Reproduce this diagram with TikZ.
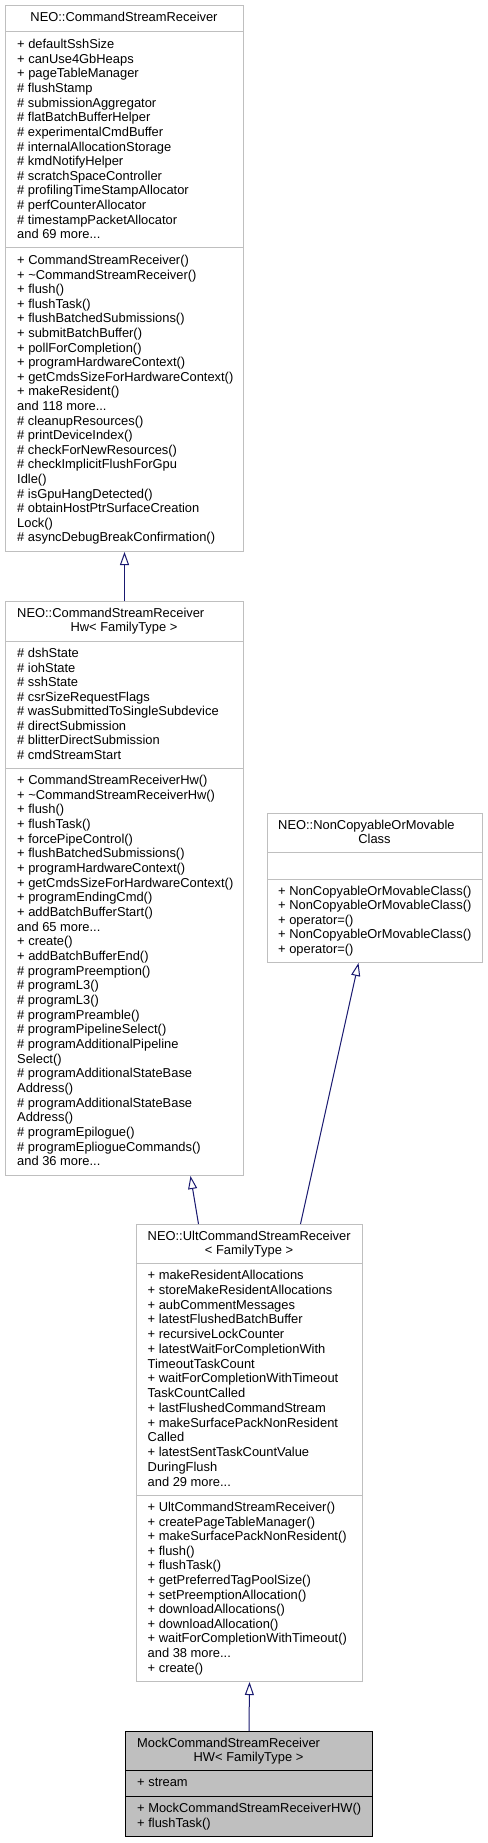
\documentclass[tikz,border=0pt]{standalone}
\usepackage{fontspec}
\setmainfont{Liberation Sans}
\usetikzlibrary{arrows.meta,calc}
\definecolor{boxgray}{HTML}{BFBFBF}
\definecolor{edgeblue}{HTML}{191970}
\newcommand\clssec[5]{\node[sectxt,font=\fontsize{12.9}{#3}\selectfont] (#4) at (#1,{#2-0.7*#3}) {\strut #5};}
\begin{document}
\begin{tikzpicture}[x=1pt,y=-1pt,
  sectxt/.style={anchor=north west,inner sep=0pt,align=left},
  ttl/.style={inner sep=0pt,font=\fontsize{12.9}{14.5}\selectfont},
  clsbox/.style={draw=boxgray,line width=1pt,fill=white,inner sep=0pt,anchor=north west},
  divl/.style={draw=boxgray,line width=1pt},
  inh/.style={draw=edgeblue,line width=1pt,-{Triangle[open,length=13pt,width=9pt]}}]
\fill[white] (0,0) rectangle (487,1843);
\useasboundingbox (0,0) rectangle (487,1843);

% ---- Box A: NEO::CommandStreamReceiver
\node[clsbox,minimum width=238pt,minimum height=546pt] (A) at (5,5) {};
\draw[divl] (5,32) -- (243,32);
\draw[divl] (5,248) -- (243,248);
\node[ttl,anchor=base] (Atitle) at (124,21.3) {NEO::CommandStreamReceiver};
\clssec{17}{48.3}{14.65}{Aattr}{+ defaultSshSize\\+ canUse4GbHeaps\\+ pageTableManager\\\# flushStamp\\\# submissionAggregator\\\# flatBatchBufferHelper\\\# experimentalCmdBuffer\\\# internalAllocationStorage\\\# kmdNotifyHelper\\\# scratchSpaceController\\\# profilingTimeStampAllocator\\\# perfCounterAllocator\\\# timestampPacketAllocator\\and 69 more...}
\clssec{17}{264.3}{14.6}{Ameth}{+ CommandStreamReceiver()\\+ \textasciitilde CommandStreamReceiver()\\+ flush()\\+ flushTask()\\+ flushBatchedSubmissions()\\+ submitBatchBuffer()\\+ pollForCompletion()\\+ programHardwareContext()\\+ getCmdsSizeForHardwareContext()\\+ makeResident()\\and 118 more...\\\# cleanupResources()\\\# printDeviceIndex()\\\# checkForNewResources()\\\# checkImplicitFlushForGpu\\Idle()\\\# isGpuHangDetected()\\\# obtainHostPtrSurfaceCreation\\Lock()\\\# asyncDebugBreakConfirmation()}

% ---- Box B: NEO::CommandStreamReceiverHw
\node[clsbox,minimum width=238pt,minimum height=574pt] (B) at (5,601) {};
\draw[divl] (5,641) -- (243,641);
\draw[divl] (5,768) -- (243,768);
\node[ttl,anchor=base west] (Btitle1) at (17,617.3) {NEO::CommandStreamReceiver};
\node[ttl,anchor=base] (Btitle2) at (124,631.8) {Hw< FamilyType >};
\clssec{17}{657.3}{14.5}{Battr}{\# dshState\\\# iohState\\\# sshState\\\# csrSizeRequestFlags\\\# wasSubmittedToSingleSubdevice\\\# directSubmission\\\# blitterDirectSubmission\\\# cmdStreamStart}
\clssec{17}{784.3}{14.67}{Bmeth}{+ CommandStreamReceiverHw()\\+ \textasciitilde CommandStreamReceiverHw()\\+ flush()\\+ flushTask()\\+ forcePipeControl()\\+ flushBatchedSubmissions()\\+ programHardwareContext()\\+ getCmdsSizeForHardwareContext()\\+ programEndingCmd()\\+ addBatchBufferStart()\\and 65 more...\\+ create()\\+ addBatchBufferEnd()\\\# programPreemption()\\\# programL3()\\\# programL3()\\\# programPreamble()\\\# programPipelineSelect()\\\# programAdditionalPipeline\\Select()\\\# programAdditionalStateBase\\Address()\\\# programAdditionalStateBase\\Address()\\\# programEpilogue()\\\# programEpliogueCommands()\\and 36 more...}

% ---- Box C: NEO::NonCopyableOrMovableClass
\node[clsbox,minimum width=215pt,minimum height=149pt] (C) at (267,813) {};
\draw[divl] (267,852) -- (482,852);
\draw[divl] (267,879) -- (482,879);
\node[ttl,anchor=base west] (Ctitle1) at (278,829.3) {NEO::NonCopyableOrMovable};
\node[ttl,anchor=base] (Ctitle2) at (374.5,843.8) {Class};
\clssec{278}{895.3}{14.4}{Cmeth}{+ NonCopyableOrMovableClass()\\+ NonCopyableOrMovableClass()\\+ operator=()\\+ NonCopyableOrMovableClass()\\+ operator=()}

% ---- Box D: NEO::UltCommandStreamReceiver
\node[clsbox,minimum width=226pt,minimum height=457pt] (D) at (136,1224) {};
\draw[divl] (136,1263) -- (362,1263);
\draw[divl] (136,1495) -- (362,1495);
\node[ttl,anchor=base west] (Dtitle1) at (147.5,1240.3) {NEO::UltCommandStreamReceiver};
\node[ttl,anchor=base] (Dtitle2) at (249,1254.8) {< FamilyType >};
\clssec{147.5}{1279.3}{14.75}{Dattr}{+ makeResidentAllocations\\+ storeMakeResidentAllocations\\+ aubCommentMessages\\+ latestFlushedBatchBuffer\\+ recursiveLockCounter\\+ latestWaitForCompletionWith\\TimeoutTaskCount\\+ waitForCompletionWithTimeout\\TaskCountCalled\\+ lastFlushedCommandStream\\+ makeSurfacePackNonResident\\Called\\+ latestSentTaskCountValue\\DuringFlush\\and 29 more...}
\clssec{147.5}{1511.3}{14.6}{Dmeth}{+ UltCommandStreamReceiver()\\+ createPageTableManager()\\+ makeSurfacePackNonResident()\\+ flush()\\+ flushTask()\\+ getPreferredTagPoolSize()\\+ setPreemptionAllocation()\\+ downloadAllocations()\\+ downloadAllocation()\\+ waitForCompletionWithTimeout()\\and 38 more...\\+ create()}

% ---- Box E: MockCommandStreamReceiverHW
\node[clsbox,draw=black,fill=boxgray,minimum width=247pt,minimum height=105pt] (E) at (125,1731) {};
\draw[line width=1pt] (125,1770) -- (372,1770);
\draw[line width=1pt] (125,1796) -- (372,1796);
\node[ttl,anchor=base west] (Etitle1) at (137,1747.3) {MockCommandStreamReceiver};
\node[ttl,anchor=base] (Etitle2) at (248.5,1761.8) {HW< FamilyType >};
\clssec{137}{1786.3}{14.5}{Eattr}{+ stream}
\clssec{137}{1812.3}{14.5}{Emeth}{+ MockCommandStreamReceiverHW()\\+ flushTask()}

% ---- Inheritance connectors
\draw[inh] (B.north) -- (A.south);
\draw[inh] ($(D.north)+(-51,0)$) -- ($(B.south)+(66,0)$);
\draw[inh] ($(D.north)+(51,0)$) -- ($(C.south)+(-16.5,0)$);
\draw[inh] (E.north) -- (D.south);
\end{tikzpicture}
\end{document}
